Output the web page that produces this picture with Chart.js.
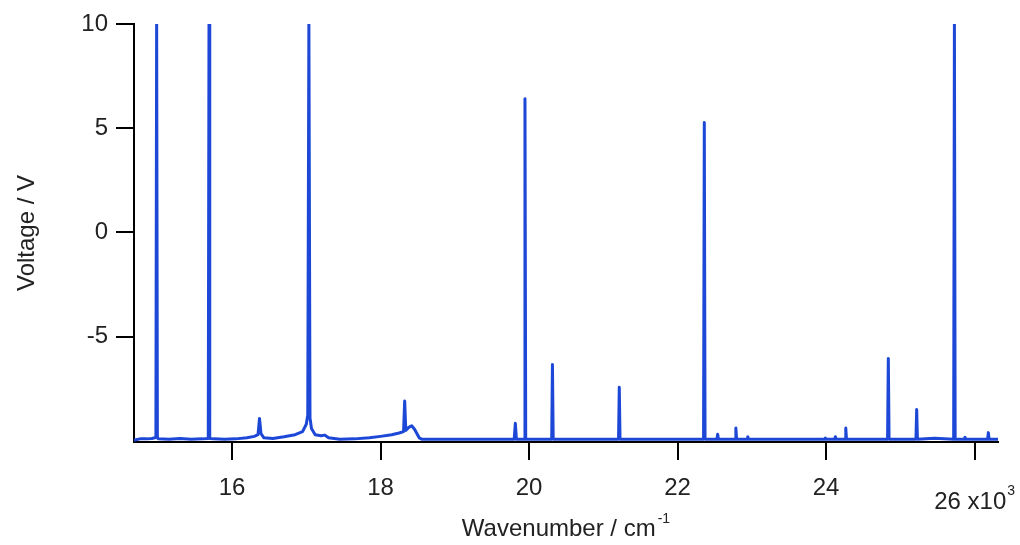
<!DOCTYPE html>
<html>
<head>
<meta charset="utf-8">
<script src="https://cdn.jsdelivr.net/npm/chart.js@4"></script>
<style>
  body { margin: 0; background: #fff; }
  #wrap { width: 1020px; height: 545px; }
</style>
</head>
<body>
<div id="wrap"><canvas id="myChart" width="1020" height="545"></canvas></div>
<script>
const ctx = document.getElementById('myChart');

// spectrum (wavenumber in cm-1, voltage in V)
const wavenumber = [
  14690, 14760, 14850, 14920, 14960, 14975, 14985, 14995, 15010, 15150,
  15300, 15450, 15600, 15680, 15690, 15700, 15750, 15900, 16050, 16200,
  16300, 16350, 16370, 16390, 16430, 16550, 16700, 16850, 16950, 17000,
  17020, 17035, 17050, 17070, 17120, 17200, 17250, 17300, 17450, 17650,
  17850, 18000, 18150, 18250, 18310, 18325, 18340, 18380, 18420, 18460,
  18520, 18560, 18900, 19300, 19800, 19815, 19830, 19935, 19945, 19955,
  20305, 20315, 20325, 20700, 21205, 21215, 21225, 21700, 22350, 22360,
  22370, 22530, 22540, 22550, 22775, 22785, 22795, 22935, 22945, 22955,
  23400, 23980, 23990, 24000, 24115, 24125, 24135, 24255, 24265, 24275,
  24828, 24838, 24848, 25210, 25220, 25230, 25460, 25718, 25728, 25738,
  25860, 25870, 25880, 26175, 26185, 26195, 26310
];
const voltage = [
  -9.95, -9.9, -9.9, -9.88, -9.85, -9.8, 10, -9.85, -9.9, -9.92,
  -9.88, -9.92, -9.9, -9.88, 10, -9.88, -9.9, -9.92, -9.9, -9.85,
  -9.78, -9.7, -8.92, -9.65, -9.85, -9.88, -9.8, -9.7, -9.55, -9.2,
  -8.75, 10, -8.9, -9.4, -9.7, -9.75, -9.72, -9.85, -9.92, -9.9,
  -9.85, -9.78, -9.7, -9.62, -9.55, -8.08, -9.5, -9.35, -9.27, -9.45,
  -9.85, -9.92, -9.92, -9.92, -9.92, -9.15, -9.92, -9.92, 6.42, -9.92,
  -9.92, -6.33, -9.92, -9.92, -9.92, -7.42, -9.92, -9.92, -9.92, 5.27,
  -9.92, -9.92, -9.68, -9.92, -9.92, -9.38, -9.92, -9.92, -9.8, -9.92,
  -9.92, -9.92, -9.86, -9.92, -9.92, -9.8, -9.92, -9.92, -9.38, -9.92,
  -9.92, -6.04, -9.92, -9.92, -8.49, -9.92, -9.87, -9.92, 10, -9.92,
  -9.92, -9.82, -9.92, -9.92, -9.6, -9.92, -9.92
];

const xTicks = [16000, 18000, 20000, 22000, 24000, 26000];
const yTicks = [-5, 0, 5, 10];

const font = '"Liberation Sans", Arial, sans-serif';
const textColor = '#222';

const points = wavenumber.map((w, i) => ({ x: w, y: voltage[i] }));

const titles = {
  id: 'titles',
  afterDraw(chart) {
    const c = chart.ctx;
    const area = chart.chartArea;
    c.save();
    c.fillStyle = textColor;
    c.font = '24px ' + font;

    // y title
    c.save();
    c.translate(27, (area.top + area.bottom) / 2);
    c.rotate(-Math.PI / 2);
    c.textAlign = 'center';
    c.textBaseline = 'middle';
    c.fillText('Voltage / V', 0, 0);
    c.restore();

    // x title with superscript
    c.textAlign = 'left';
    c.textBaseline = 'alphabetic';
    const main = 'Wavenumber / cm';
    const mw = c.measureText(main).width;
    c.font = '14px ' + font;
    const sw = c.measureText('-1').width;
    let x0 = (area.left + area.right) / 2 - (mw + sw + 2) / 2;
    c.font = '24px ' + font;
    c.fillText(main, x0, 536);
    c.font = '14px ' + font;
    c.fillText('-1', x0 + mw + 2, 523);

    // last x tick label with multiplier
    const px = chart.scales.x.getPixelForValue(26000);
    c.font = '24px ' + font;
    const lw = c.measureText('26 x10').width;
    c.font = '14px ' + font;
    const ew = c.measureText('3').width;
    x0 = px - (lw + ew + 1) / 2;
    c.font = '24px ' + font;
    c.fillText('26 x10', x0, 509);
    c.font = '14px ' + font;
    c.fillText('3', x0 + lw + 1, 495);
    c.restore();
  }
};

const config = {
  type: 'line',
  data: {
    datasets: [{
      data: points,
      borderColor: '#1d47d6',
      borderWidth: 3,
      borderJoinStyle: 'round',
      borderCapStyle: 'round',
      pointRadius: 0,
      tension: 0,
      fill: false
    }]
  },
  options: {
    responsive: false,
    animation: false,
    layout: { padding: { left: 0, right: 22, top: 24, bottom: 0 } },
    plugins: { legend: { display: false }, tooltip: { enabled: false } },
    scales: {
      x: {
        type: 'linear',
        min: 14680,
        max: 26315,
        afterFit(scale) { scale.height = 103; },
        afterBuildTicks(scale) { scale.ticks = xTicks.map(v => ({ value: v })); },
        border: { color: '#000', width: 2 },
        grid: { drawOnChartArea: false, drawTicks: true, tickLength: 18, color: '#000', lineWidth: 2 },
        ticks: {
          color: textColor,
          font: { size: 24, family: font },
          padding: 14,
          maxRotation: 0,
          callback: v => (v === 26000 ? '' : String(v / 1000))
        }
      },
      y: {
        min: -10.05,
        max: 10,
        afterFit(scale) { scale.width = 134; },
        afterBuildTicks(scale) { scale.ticks = yTicks.map(v => ({ value: v })); },
        border: { color: '#000', width: 2 },
        grid: { drawOnChartArea: false, drawTicks: true, tickLength: 18, color: '#000', lineWidth: 2 },
        ticks: {
          color: textColor,
          font: { size: 24, family: font },
          padding: 8
        }
      }
    }
  },
  plugins: [titles]
};

let chart = new Chart(ctx, config);
</script>
</body>
</html>
